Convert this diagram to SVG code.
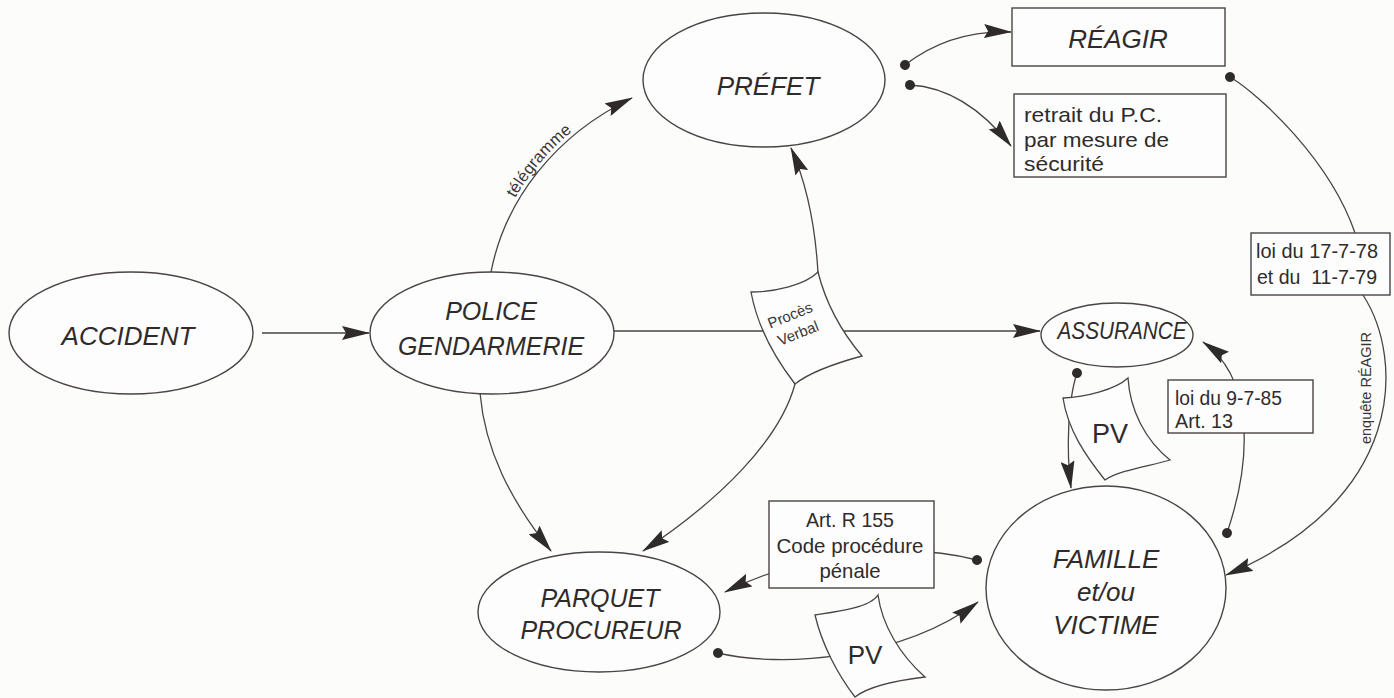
<svg xmlns="http://www.w3.org/2000/svg" width="1394" height="698" viewBox="0 0 1394 698">
<style>
.bg{fill:#fcfcfb}
.node{fill:#fdfdfd;stroke:#4a4444;stroke-width:1.4}
.box{fill:#fdfdfd;stroke:#4a4444;stroke-width:1.4}
.paper{fill:#fdfdfd;stroke:#4a4444;stroke-width:1.3}
.conn{fill:none;stroke:#4a4444;stroke-width:1.3}
.lbl{font-family:"Liberation Sans",Arial,sans-serif;font-style:italic;fill:#2f2b2b;text-anchor:middle}
.txt{font-family:"Liberation Sans",Arial,sans-serif;fill:#2f2b2b}
.small{font-family:"Liberation Sans",Arial,sans-serif;fill:#3a3535}
</style>
<defs>
<marker id="arr" markerUnits="userSpaceOnUse" markerWidth="28" markerHeight="14" refX="27" refY="7" orient="auto">
<path d="M0,0 L28,7 L0,14 L4,7 Z" fill="#2f2b2b"/>
</marker>
<marker id="dot" markerUnits="userSpaceOnUse" markerWidth="12" markerHeight="12" refX="6" refY="6" orient="auto">
<circle cx="6" cy="6" r="5" fill="#2f2b2b"/>
</marker>
</defs>
<rect class="bg" x="0" y="0" width="1394" height="698"/>

<g id="connectors">
<path class="conn" d="M262 333 L369 333" marker-end="url(#arr)"/>
<path id="telePath" class="conn" d="M491 272 C505 200 555 135 632 98" marker-end="url(#arr)"/>
<text class="small" font-size="16.5" dy="-4"><textPath href="#telePath" startOffset="52%" text-anchor="middle">télégramme</textPath></text>
<path class="conn" d="M614 331 L1040 331" marker-end="url(#arr)"/>
<path class="conn" d="M818 273 C815 220 805 180 791 148" marker-end="url(#arr)"/>
<path class="conn" d="M795 384 C780 440 720 500 643 551" marker-end="url(#arr)"/>
<path class="conn" d="M480 393 C485 450 510 500 551 551" marker-end="url(#arr)"/>
<path class="conn" d="M905 65 Q950 30 1011 32" marker-start="url(#dot)" marker-end="url(#arr)"/>
<path class="conn" d="M910 85 Q965 88 1011 146" marker-start="url(#dot)" marker-end="url(#arr)"/>
<path class="conn" d="M1230 77 C1260 95 1330 160 1355 233" marker-start="url(#dot)"/>
<path class="conn" d="M1363 295 C1405 360 1405 500 1226 575" marker-end="url(#arr)"/>
<text class="small" font-size="14.5" text-anchor="middle" transform="translate(1371,388) rotate(-90)">enquête RÉAGIR</text>
<path class="conn" d="M1227 533 C1255 450 1250 375 1203 342" marker-start="url(#dot)" marker-end="url(#arr)"/>
<path class="conn" d="M1077 373 C1068 400 1066 450 1071 488" marker-start="url(#dot)" marker-end="url(#arr)"/>
<path class="conn" d="M977 560 C900 540 800 555 725 592" marker-start="url(#dot)" marker-end="url(#arr)"/>
<path class="conn" d="M718 653 C780 668 900 660 978 602" marker-start="url(#dot)" marker-end="url(#arr)"/>
</g>

<g id="accident">
<ellipse class="node" cx="131" cy="333" rx="122" ry="61"/>
<text class="lbl" x="128" y="345" font-size="26">ACCIDENT</text>
</g>
<g id="police">
<ellipse class="node" cx="492" cy="333" rx="122" ry="61"/>
<text class="lbl" x="491" y="320" font-size="25">POLICE</text>
<text class="lbl" x="491" y="355" font-size="25">GENDARMERIE</text>
</g>
<g id="prefet">
<ellipse class="node" cx="764" cy="80" rx="121" ry="67"/>
<text class="lbl" x="768" y="95" font-size="26">PRÉFET</text>
</g>
<g id="reagir">
<rect class="box" x="1012" y="8" width="213" height="58"/>
<text class="lbl" x="1118" y="48" font-size="26">RÉAGIR</text>
</g>
<g id="retrait">
<rect class="box" x="1014" y="94" width="212" height="83"/>
<text class="txt" x="1024" y="122" font-size="21" textLength="138" lengthAdjust="spacingAndGlyphs">retrait du P.C.</text>
<text class="txt" x="1024" y="147" font-size="21" textLength="145" lengthAdjust="spacingAndGlyphs">par mesure de</text>
<text class="txt" x="1024" y="171" font-size="21" textLength="80" lengthAdjust="spacingAndGlyphs">sécurité</text>
</g>
<g id="loi78">
<rect class="box" x="1251" y="233" width="139" height="62"/>
<text class="txt" x="1256" y="258" font-size="20" textLength="122" lengthAdjust="spacingAndGlyphs">loi du 17-7-78</text>
<text class="txt" x="1257" y="284" font-size="20" textLength="120" lengthAdjust="spacingAndGlyphs" style="white-space:pre">et du  11-7-79</text>
</g>
<g id="proces-verbal">
<path class="paper" d="M751 292 C775 292 805 285 818 272 C825 300 840 330 862 356 C840 362 810 372 795 384 C778 362 758 330 751 292 Z"/>
<text class="small" font-size="15" text-anchor="middle" transform="translate(792,320) rotate(-22)">Procès</text>
<text class="small" font-size="15" text-anchor="middle" transform="translate(800,338) rotate(-22)">Verbal</text>
</g>
<g id="assurance">
<ellipse class="node" cx="1117" cy="335" rx="76" ry="32"/>
<text class="lbl" x="1122" y="339" font-size="23" textLength="129" lengthAdjust="spacingAndGlyphs">ASSURANCE</text>
</g>
<g id="pv1">
<path class="paper" d="M1063 398 C1085 397 1115 390 1128 378 C1130 410 1145 440 1170 460 C1150 466 1120 470 1105 480 C1085 455 1068 430 1063 398 Z"/>
<text class="txt" x="1110" y="443" font-size="27" text-anchor="middle">PV</text>
</g>
<g id="loi85">
<rect class="box" x="1168" y="380" width="145" height="53"/>
<text class="txt" x="1175" y="405" font-size="20" textLength="107" lengthAdjust="spacingAndGlyphs">loi du 9-7-85</text>
<text class="txt" x="1175" y="428" font-size="20" textLength="58" lengthAdjust="spacingAndGlyphs">Art. 13</text>
</g>
<g id="art-r155">
<rect class="box" x="769" y="501" width="165" height="87"/>
<text class="txt" x="850" y="527" font-size="21" text-anchor="middle" textLength="88" lengthAdjust="spacingAndGlyphs">Art. R 155</text>
<text class="txt" x="850" y="553" font-size="21" text-anchor="middle" textLength="147" lengthAdjust="spacingAndGlyphs">Code procédure</text>
<text class="txt" x="850" y="578" font-size="21" text-anchor="middle" textLength="61" lengthAdjust="spacingAndGlyphs">pénale</text>
</g>
<g id="parquet">
<ellipse class="node" cx="599" cy="612" rx="121" ry="60"/>
<text class="lbl" x="600" y="607" font-size="25">PARQUET</text>
<text class="lbl" x="601" y="639" font-size="25">PROCUREUR</text>
</g>
<g id="pv2">
<path class="paper" d="M815 615 C835 612 870 608 878 595 C882 625 900 655 925 677 C900 680 870 685 855 697 C838 675 822 645 815 615 Z"/>
<text class="txt" x="865" y="664" font-size="26" text-anchor="middle">PV</text>
</g>
<g id="famille">
<ellipse class="node" cx="1106" cy="588" rx="120" ry="102"/>
<text class="lbl" x="1106" y="568" font-size="26">FAMILLE</text>
<text class="lbl" x="1106" y="601" font-size="26">et/ou</text>
<text class="lbl" x="1106" y="634" font-size="26">VICTIME</text>
</g>
</svg>
